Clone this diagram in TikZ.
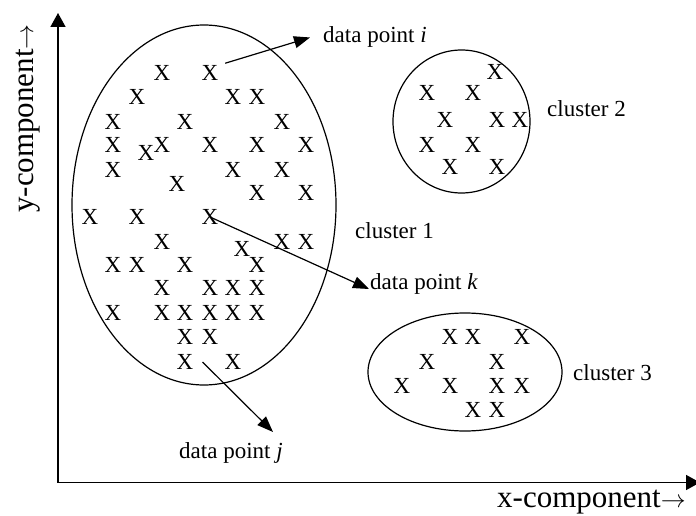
\documentclass[tikz,border=0pt]{standalone}
\usepackage{fontspec}
\setmainfont{Liberation Serif}
\usetikzlibrary{arrows.meta}

\begin{document}
\begin{tikzpicture}[x = 1pt, y = -1pt,
  xmark/.style = {inner sep = 0pt, font = \fontsize{23}{27}\selectfont},
  lab/.style = {inner sep = 0pt, anchor = base west, font = \fontsize{23}{27}\selectfont},
  axlab/.style = {inner sep = 0pt, anchor = base west, font = \fontsize{31}{37}\selectfont},
  arr/.style = {line width = 1.2pt, -{Triangle[length = 16pt, width = 12pt]}},
  axis/.style = {line width = 1.5pt, -{Triangle[length = 14pt, width = 15pt]}}]

\useasboundingbox (0, 0) rectangle (696, 516);

\coordinate (origin) at (58, 482.5);
\coordinate (ytip) at (58, 13);
\coordinate (xtip) at (700, 482.5);
\draw[axis] (origin) -- (ytip);
\draw[axis] (origin) -- (xtip);
\node[axlab, rotate = 90] (ylab) at (33, 213) {y-component$\rightarrow$};
\node[axlab] (xlab) at (497, 507) {x-component$\rightarrow$};

\draw[line width = 1.2pt] (204, 205) ellipse [x radius = 132, y radius = 180];
\draw[line width = 1.2pt] (461.5, 121.5) ellipse [x radius = 68.5, y radius = 71.5];
\draw[line width = 1.2pt] (465, 372) ellipse [x radius = 97, y radius = 59];

\node[xmark] (a1) at (162, 73) {X};
\node[xmark] (a2) at (210, 73) {X};
\node[xmark] (a3) at (137, 97) {X};
\node[xmark] (a4) at (233, 97) {X};
\node[xmark] (a5) at (257, 97) {X};
\node[xmark] (a6) at (113, 122) {X};
\node[xmark] (a7) at (185, 122) {X};
\node[xmark] (a8) at (282, 122) {X};
\node[xmark] (a9) at (113, 145) {X};
\node[xmark] (a10) at (146, 153) {X};
\node[xmark] (a11) at (162, 145) {X};
\node[xmark] (a12) at (210, 145) {X};
\node[xmark] (a13) at (257, 145) {X};
\node[xmark] (a14) at (306, 145) {X};
\node[xmark] (a15) at (113, 170) {X};
\node[xmark] (a16) at (233, 170) {X};
\node[xmark] (a17) at (282, 170) {X};
\node[xmark] (a18) at (177, 184) {X};
\node[xmark] (a19) at (257, 193) {X};
\node[xmark] (a20) at (306, 193) {X};
\node[xmark] (a21) at (90, 217) {X};
\node[xmark] (a22) at (137, 217) {X};
\node[xmark] (a23) at (210, 217) {X};
\node[xmark] (a24) at (162, 242) {X};
\node[xmark] (a25) at (242, 249) {X};
\node[xmark] (a26) at (282, 242) {X};
\node[xmark] (a27) at (306, 242) {X};
\node[xmark] (a28) at (113, 265) {X};
\node[xmark] (a29) at (137, 265) {X};
\node[xmark] (a30) at (185, 265) {X};
\node[xmark] (a31) at (257, 265) {X};
\node[xmark] (a32) at (162, 288) {X};
\node[xmark] (a33) at (210, 288) {X};
\node[xmark] (a34) at (233, 288) {X};
\node[xmark] (a35) at (257, 288) {X};
\node[xmark] (a36) at (113, 313) {X};
\node[xmark] (a37) at (162, 313) {X};
\node[xmark] (a38) at (185, 313) {X};
\node[xmark] (a39) at (210, 313) {X};
\node[xmark] (a40) at (233, 313) {X};
\node[xmark] (a41) at (257, 313) {X};
\node[xmark] (a42) at (185, 337) {X};
\node[xmark] (a43) at (210, 337) {X};
\node[xmark] (a44) at (185, 362) {X};
\node[xmark] (a45) at (233, 362) {X};

\node[xmark] (b1) at (495, 72) {X};
\node[xmark] (b2) at (427, 93) {X};
\node[xmark] (b3) at (473, 93) {X};
\node[xmark] (b4) at (445, 120) {X};
\node[xmark] (b5) at (497, 120) {X};
\node[xmark] (b6) at (520, 120) {X};
\node[xmark] (b7) at (427, 145) {X};
\node[xmark] (b8) at (473, 145) {X};
\node[xmark] (b9) at (450, 167) {X};
\node[xmark] (b10) at (497, 167) {X};

\node[xmark] (c1) at (450, 337) {X};
\node[xmark] (c2) at (473, 337) {X};
\node[xmark] (c3) at (522, 337) {X};
\node[xmark] (c4) at (427, 362) {X};
\node[xmark] (c5) at (497, 362) {X};
\node[xmark] (c6) at (402, 386) {X};
\node[xmark] (c7) at (450, 386) {X};
\node[xmark] (c8) at (497, 386) {X};
\node[xmark] (c9) at (522, 386) {X};
\node[xmark] (c10) at (473, 410) {X};
\node[xmark] (c11) at (497, 410) {X};

\node[lab] (clus1) at (355, 238) {cluster 1};
\node[lab] (clus2) at (547, 117) {cluster 2};
\node[lab] (clus3) at (573, 380) {cluster 3};

\node[lab, inner xsep = 13pt] (dpi) at (310, 43) {data point \textit{i}};
\node[lab, inner xsep = 1pt] (dpk) at (369, 289) {data point \textit{k}};
\node[lab] (dpj) at (179, 458) {data point \textit{j}};
\coordinate (jtip) at (273, 432);

\draw[arr, shorten < = 7pt] (a2.north east) -- (dpi.west);
\draw[arr] (a23.center) -- (dpk.base west);
\draw[arr] ([xshift = 9pt]a44.east) -- (jtip);

\end{tikzpicture}
\end{document}
